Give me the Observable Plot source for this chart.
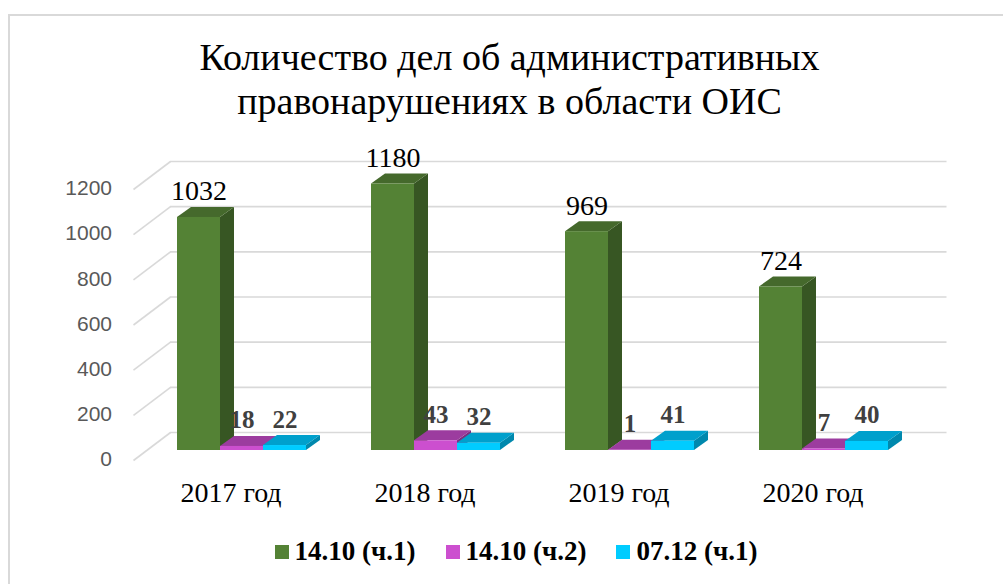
<!DOCTYPE html>
<html>
<head>
<meta charset="utf-8">
<script src="https://cdn.jsdelivr.net/npm/d3@7"></script>
<script src="https://cdn.jsdelivr.net/npm/@observablehq/plot@0.6"></script>
<style>
  html, body { margin: 0; padding: 0; background: #fff; }
  #wrap { position: relative; width: 1003px; height: 584px; overflow: hidden; background: #fff; }
  #frame { position: absolute; left: 8px; top: 14px; width: 1100px; height: 700px;
           border-left: 2px solid #d9d9d9; border-top: 2px solid #d9d9d9; }
  #title { position: absolute; left: 0; top: 35px; width: 1019px; text-align: center;
           font-family: "Liberation Serif", "Times New Roman", serif; font-size: 38px;
           line-height: 44px; color: #000; }
  #chart { position: absolute; left: 0; top: 130px; }
  #legend { position: absolute; left: 0; top: 536px; width: 1032px; display: flex; justify-content: center;
            font-family: "Liberation Serif", "Times New Roman", serif; font-weight: bold; font-size: 27px; color: #000; }
  .item { display: flex; align-items: center; margin: 0 15px; }
  .sw { width: 14px; height: 14px; margin-right: 6px; }
</style>
</head>
<body>
<div id="wrap">
  <div id="frame"></div>
  <div id="title">Количество дел об административных<br>правонарушениях в области ОИС</div>
  <div id="chart"></div>
  <div id="legend"></div>
</div>
<script>
// ---- data ----
const categories = ["2017 год", "2018 год", "2019 год", "2020 год"];
const seriesNames = ["14.10 (ч.1)", "14.10 (ч.2)", "07.12 (ч.1)"];
const series1 = [1032, 1180, 969, 724];
const series2 = [18, 43, 1, 7];
const series3 = [22, 32, 41, 40];
const yTicks = [0, 200, 400, 600, 800, 1000, 1200];

// ---- styles ----
const frontColors = ["#548235", "#cc4fcf", "#00ccff"];
const topColors   = ["#45692c", "#9c3c9f", "#00a0cc"];
const sideColors  = ["#375623", "#7b2e80", "#0088ad"];

// ---- layout ----
const W = 1003, H = 390;
const mL = 144.5, mR = 82.5, mT = 49, mB = 70;
const xUnit = (W - mL - mR) / categories.length;     // px per category
const kY = (H - mT - mB) / 1200;                     // px per value unit
const barW = 43 / xUnit;                             // bar width in x units
const DX = 14 / xUnit, DY = 10 / kY;                 // bar depth
const px2x = p => (p - mL) / xUnit;

const allSeries = [series1, series2, series3];
const bars = [];
allSeries.forEach((vals, j) => vals.forEach((v, i) => {
  const xl = i + 0.5 - 1.5 * barW + j * barW;
  bars.push({id: `${i}-${j}`, i, j, v, xl, xr: xl + barW, xc: xl + barW / 2});
}));

const serif = "Liberation Serif, Times New Roman, serif";
const marks = [];
// back wall gridlines
marks.push(Plot.ruleY(yTicks, {y: d => d, x1: px2x(170), x2: px2x(946.5), dy: -18, stroke: "#d9d9d9", strokeWidth: 1.6}));
// left wall diagonals
marks.push(Plot.link(yTicks, {x1: px2x(133), y1: d => d - 10 / kY, x2: px2x(170), y2: d => d + 18 / kY,
  stroke: "#d9d9d9", strokeWidth: 1.6}));

// side faces
for (let j = 0; j < 3; j++) {
  const pts = bars.filter(b => b.j === j).flatMap(b => [
    {id: b.id, x: b.xr, y1: 0, y2: b.v},
    {id: b.id, x: b.xr + DX, y1: DY, y2: b.v + DY}
  ]);
  marks.push(Plot.areaY(pts, {x: "x", y1: "y1", y2: "y2", z: "id", fill: sideColors[j]}));
}
// top faces
for (let j = 0; j < 3; j++) {
  const pts = bars.filter(b => b.j === j).flatMap(b => [
    {id: b.id, y: b.v, x1: b.xl, x2: b.xr},
    {id: b.id, y: b.v + DY, x1: b.xl + DX, x2: b.xr + DX}
  ]);
  marks.push(Plot.areaX(pts, {y: "y", x1: "x1", x2: "x2", z: "id", fill: topColors[j]}));
}
// front faces
for (let j = 0; j < 3; j++) {
  marks.push(Plot.rect(bars.filter(b => b.j === j), {x1: "xl", x2: "xr", y1: 0, y2: "v", fill: frontColors[j]}));
}
// value labels
marks.push(Plot.text(bars.filter(b => b.j === 0), {x: "xc", y: "v", text: d => String(d.v), dy: -26,
  fontFamily: serif, fontSize: 28, fill: "#000", lineAnchor: "middle"}));
marks.push(Plot.text(bars.filter(b => b.j > 0), {x: "xc", y: "v", text: d => String(d.v), dy: -26,
  fontFamily: serif, fontSize: 25, fontWeight: "bold", fill: "#404040", lineAnchor: "middle"}));
// category labels
marks.push(Plot.text(categories, {x: (d, i) => i + 0.5, y: 0, text: d => d, dx: -11, dy: 43,
  fontFamily: serif, fontSize: 28, fill: "#000", lineAnchor: "middle"}));
// y tick labels
marks.push(Plot.text(yTicks, {y: d => d, text: d => String(d), frameAnchor: "left", dx: -33, dy: 9,
  textAnchor: "end", fontFamily: "Liberation Sans, Arial, sans-serif", fontSize: 21, fill: "#595959", lineAnchor: "middle"}));

const chart = Plot.plot({
  width: W, height: H,
  marginLeft: mL, marginRight: mR, marginTop: mT, marginBottom: mB,
  x: {domain: [0, categories.length], axis: null},
  y: {domain: [0, 1200], axis: null},
  style: {background: "transparent", overflow: "visible"},
  marks
});
document.getElementById("chart").appendChild(chart);

// legend
const legend = document.getElementById("legend");
seriesNames.forEach((name, j) => {
  const it = document.createElement("div");
  it.className = "item";
  const sw = document.createElement("div");
  sw.className = "sw";
  sw.style.background = frontColors[j];
  const tx = document.createElement("span");
  tx.textContent = name;
  it.appendChild(sw); it.appendChild(tx);
  legend.appendChild(it);
});
</script>
</body>
</html>
